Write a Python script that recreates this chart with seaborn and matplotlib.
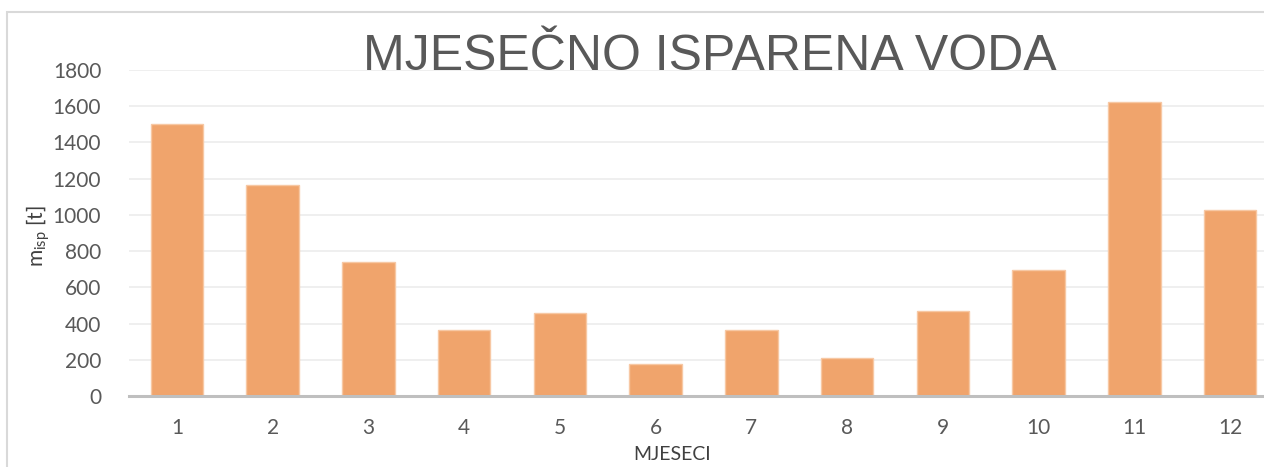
import matplotlib
matplotlib.use("Agg")
import matplotlib.pyplot as plt
import seaborn as sns
import pandas as pd
from matplotlib.patches import Rectangle

months = [str(i) for i in range(1, 13)]
values = [1500, 1165, 740, 364, 458, 177, 364, 210, 469, 696, 1623, 1027]
y_ticks = [0, 200, 400, 600, 800, 1000, 1200, 1400, 1600, 1800]
title = "MJESEČNO ISPARENA VODA"
x_label = "MJESECI"

sns.set_theme(style="white")
plt.rcParams['font.family'] = ['Lato', 'DejaVu Sans']
plt.rcParams['mathtext.fontset'] = 'custom'
plt.rcParams['mathtext.rm'] = 'Lato'
plt.rcParams['mathtext.it'] = 'Lato'

df = pd.DataFrame({"month": months, "value": values})

fig = plt.figure(figsize=(12.64, 4.67), dpi=100)
fig.patch.set_facecolor('white')
ax = fig.add_axes([129/1264, 71/467, (1264-129)/1264, 326/467])

sns.barplot(data=df, x="month", y="value", color="#F0A46C", saturation=1,
            width=0.55, edgecolor="#F7C8A4", linewidth=1, ax=ax, zorder=3)

ax.set_ylim(0, 1800)
ax.set_xlim(-0.5, 11.5 - 14/95.7)
ax.set_yticks(y_ticks)
ax.yaxis.grid(True, color="#eeeeee", linewidth=1.3, zorder=0)
ax.xaxis.grid(False)
for s in ['top', 'right', 'left']:
    ax.spines[s].set_visible(False)
ax.spines['bottom'].set_color('#bfbfbf')
ax.spines['bottom'].set_linewidth(2.2)
ax.spines['bottom'].set_zorder(4)
ax.tick_params(axis='both', length=0, labelsize=15, labelcolor='#595959')
ax.tick_params(axis='x', pad=16)
ax.tick_params(axis='y', pad=20)

ax.set_xlabel(x_label, fontsize=14, color='#404040', va='center')
ax.xaxis.set_label_coords((672-129)/1135, (396-455)/326)
ax.set_ylabel(r'm$_{\mathrm{isp}}$ [t]', fontsize=15, color='#404040', va='center')
ax.yaxis.set_label_coords(-(129-38)/1135, (396-236)/326)

fig.text(710/1264, 1 - 57/467, title, ha='center', va='center',
         fontsize=36, color='#595959', family=['Liberation Sans', 'DejaVu Sans'])

fig.patches.append(Rectangle((7/1264, -0.1), 1.2, 1 - 12/467 + 0.1,
                             transform=fig.transFigure, fill=False,
                             edgecolor='#d9d9d9', linewidth=1.5, zorder=-1))

fig.savefig("out.png", dpi=100)
